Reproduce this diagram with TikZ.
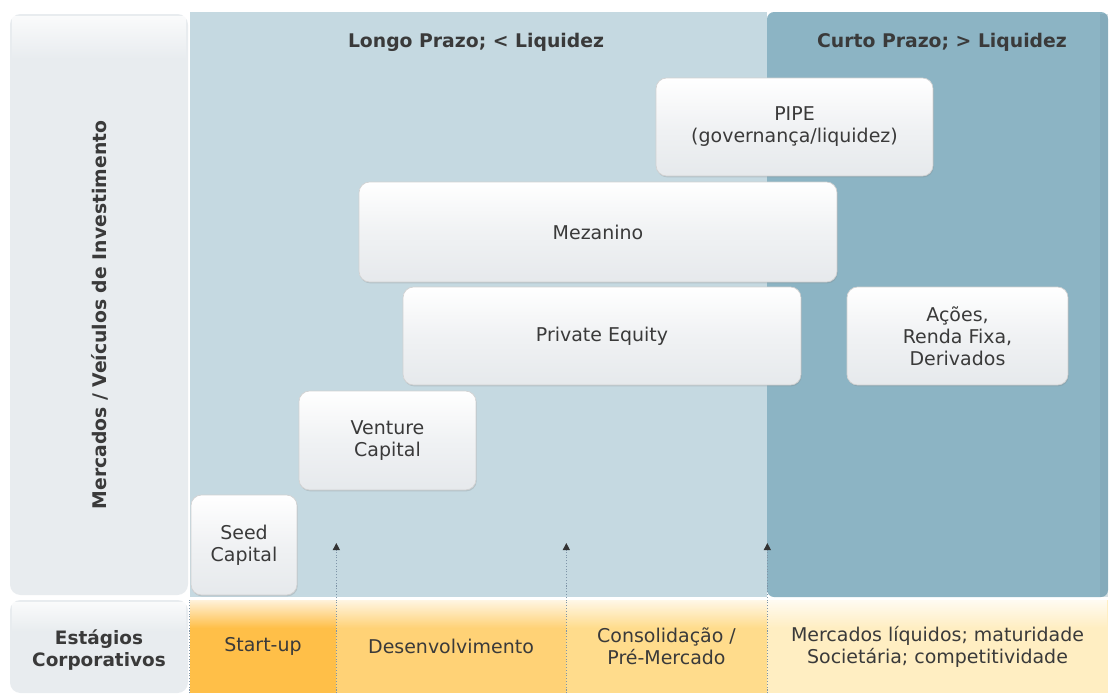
\documentclass[tikz,border=0pt]{standalone}
\usepackage{fontspec}
\setmainfont{DejaVu Sans}
\usetikzlibrary{positioning,shadows,arrows.meta,fadings}

\definecolor{longblue}{HTML}{C5D9E1}
\definecolor{curtoblue}{HTML}{8CB4C4}
\definecolor{panelgray}{HTML}{E8ECEF}
\definecolor{boxgray}{HTML}{E6E9EC}
\definecolor{startcol}{HTML}{FFBF48}
\definecolor{desenvcol}{HTML}{FFD276}
\definecolor{consolcol}{HTML}{FFDC8C}
\definecolor{mercadocol}{HTML}{FFEEC2}
\definecolor{textgray}{HTML}{3A3A3A}
\definecolor{dotblue}{HTML}{7F95A8}

\newcommand*{\tipY}{543}

\tikzset{
    fundbox/.style={rectangle, rounded corners=6pt, draw=gray!35, line width=0.4pt,
        top color=white, bottom color=boxgray, middle color=boxgray!60!white,
        text=textgray, align=center, font=\fontsize{10.8}{12.5}\selectfont,
        drop shadow={shadow xshift=0.4pt, shadow yshift=-0.8pt, opacity=0.25}},
    stagecell/.style={rectangle, inner sep=0pt, text=textgray, align=center,
        font=\fontsize{10.8}{12.5}\selectfont},
    headtext/.style={text=textgray, font=\bfseries\fontsize{10.7}{12}\selectfont},
    gloss/.style={white, path fading=south, fill opacity=0.8},
    stagearrow/.style={dotblue, densely dotted, line width=0.6pt,
        -{Triangle[length=4pt, width=4pt, black!80]}},
}

\begin{document}
\begin{tikzpicture}[x=0.02cm, y=-0.02cm]
\useasboundingbox (0,0) rectangle (1111,693);
\fill[white] (0,0) rectangle (1111,693);

% background areas
\fill[panelgray, rounded corners=6pt] (10,14) rectangle (188,595);
\fill[gloss] (12,16) rectangle (186,60);
\fill[longblue] (190,12) rectangle (767,597);
\fill[curtoblue, rounded corners=4pt] (767,12) -- (1108,12) -- (1108,597) -- (767,597) -- cycle;
\fill[curtoblue!85!black, opacity=0.3] (1100,14) rectangle (1108,597);

% column headings
\node[headtext] (longo) at (476,42) {Longo Prazo; < Liquidez};
\node[headtext] (curto) at (942,42) {Curto Prazo; > Liquidez};
\node[headtext, rotate=90] (mercados) at (100,315) {Mercados / Veículos de Investimento};

% investment vehicles
\node[fundbox, minimum width=5.54cm, minimum height=1.96cm] (pipe) at (794.5,127) {PIPE\\(governança/liquidez)};
\node[fundbox, minimum width=9.56cm, minimum height=2.0cm] (mezanino) at (598,232) {Mezanino};
\node[fundbox, minimum width=7.96cm, minimum height=1.96cm] (private) at (602,336) {Private Equity};
\node[fundbox, minimum width=4.42cm, minimum height=1.96cm] (acoes) at (957.5,336) {Ações,\\Renda Fixa,\\Derivados};
\node[fundbox, minimum width=3.54cm, minimum height=1.98cm] (venture) at (387.5,440.5) {Venture\\Capital};
\node[fundbox, minimum width=2.12cm, minimum height=2.0cm] (seed) at (244,545) {Seed\\Capital};

% corporate stages
\fill[panelgray, rounded corners=6pt] (10,600) -- (188,600) -- (188,693) -- (10,693) -- cycle;
\fill[gloss] (12,602) rectangle (186,632);
\node[stagecell, font=\bfseries\fontsize{10.5}{12}\selectfont] (estagios) at (99,650) {Estágios\\Corporativos};
\node[stagecell, fill=startcol, minimum width=2.92cm, minimum height=1.86cm] (startup) at (263,646.5) {Start-up};
\node[stagecell, fill=desenvcol, minimum width=4.6cm, minimum height=1.86cm] (desenv) at (451,646.5) {Desenvolvimento};
\node[stagecell, fill=consolcol, minimum width=4.02cm, minimum height=1.86cm] (consol) at (666.5,646.5) {Consolidação /\\Pré-Mercado};
\node[stagecell, fill=mercadocol, minimum width=6.82cm, minimum height=1.86cm] (liquidos) at (937.5,646.5) {Mercados líquidos; maturidade\\Societária; competitividade};
\fill[gloss] (190,600) rectangle (1108,628);

% stage boundaries
\coordinate (tipA) at (startup.south east |- 0,\tipY);
\coordinate (tipB) at (desenv.south east |- 0,\tipY);
\coordinate (tipC) at (consol.south east |- 0,\tipY);
\draw[dotblue, densely dotted, line width=0.6pt] (startup.south west) -- (startup.north west);
\draw[stagearrow] (startup.south east) -- (tipA);
\draw[stagearrow] (desenv.south east) -- (tipB);
\draw[stagearrow] (consol.south east) -- (tipC);

\end{tikzpicture}
\end{document}
